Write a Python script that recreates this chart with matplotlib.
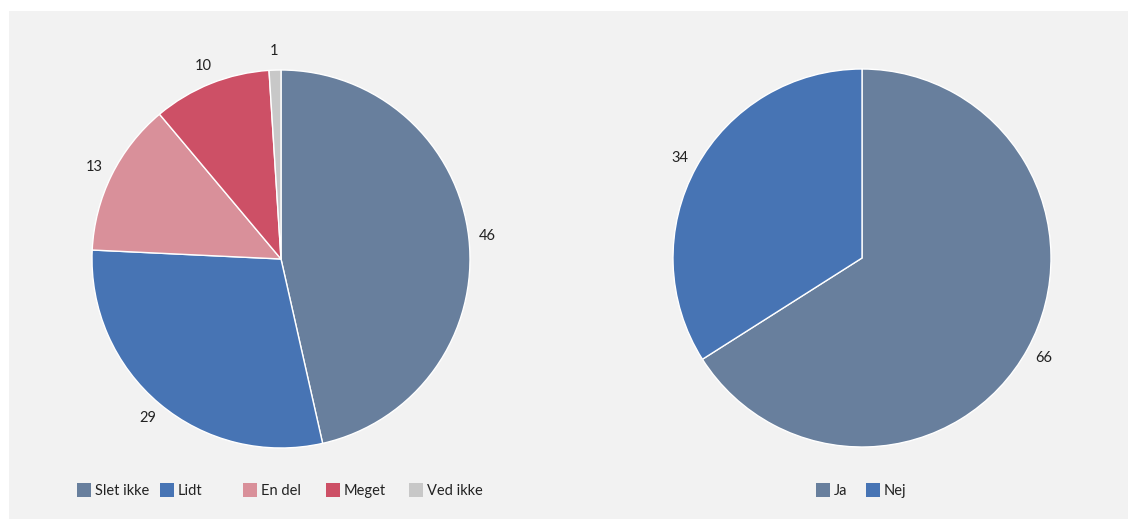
import matplotlib
matplotlib.use('Agg')
import matplotlib.pyplot as plt
from matplotlib.patches import Rectangle

plt.rcParams['font.family'] = ['Lato', 'DejaVu Sans']

# left pie
left_cats = ['Slet ikke', 'Lidt', 'En del', 'Meget', 'Ved ikke']
left_vals = [46, 29, 13, 10, 1]
left_cols = ['#687f9d', '#4774b4', '#d9909a', '#cd5066', '#c8c8c8']

# right pie
right_cats = ['Ja', 'Nej']
right_vals = [66, 34]
right_cols = ['#687f9d', '#4774b4']

W, H = 1128, 519
fig = plt.figure(figsize=(W/100, H/100), dpi=100)
fig.patch.set_facecolor('white')
fig.patches.append(Rectangle((9/W, 0), 1-9/W, 1-11/H, transform=fig.transFigure,
                             facecolor='#f2f2f2', edgecolor='none', zorder=-10))

R = 189

def draw_pie(cx, cy, vals, cols):
    ax = fig.add_axes([(cx-R)/W, (H-cy-R)/H, 2*R/W, 2*R/H])
    ax.set_facecolor('none')
    wedges, texts = ax.pie(vals, colors=cols, labels=[str(v) for v in vals],
                           startangle=90, counterclock=False, radius=1,
                           labeldistance=1.10,
                           wedgeprops=dict(edgecolor='white', linewidth=1),
                           textprops=dict(fontsize=10.5, color='#222222'))
    for t in texts:
        t.set_ha('center')
        t.set_va('center')
    ax.set_xlim(-1, 1)
    ax.set_ylim(-1, 1)
    ax.axis('off')

draw_pie(281, 259, left_vals, left_cols)
draw_pie(862, 258, right_vals, right_cols)

def draw_legend(x0, step, cats, cols, y=490):
    for i, (c, col) in enumerate(zip(cats, cols)):
        x = x0 + i*step
        fig.patches.append(Rectangle((x/W, (H-y-7)/H), 14/W, 14/H, transform=fig.transFigure,
                                     facecolor=col, edgecolor='none'))
        fig.text((x+18)/W, (H-y-1)/H, c, fontsize=10.5, va='center', ha='left', color='#222222')

draw_legend(77, 83, left_cats, left_cols)
draw_legend(816, 50, right_cats, right_cols)

fig.savefig('out.png', dpi=100, facecolor=fig.get_facecolor())
